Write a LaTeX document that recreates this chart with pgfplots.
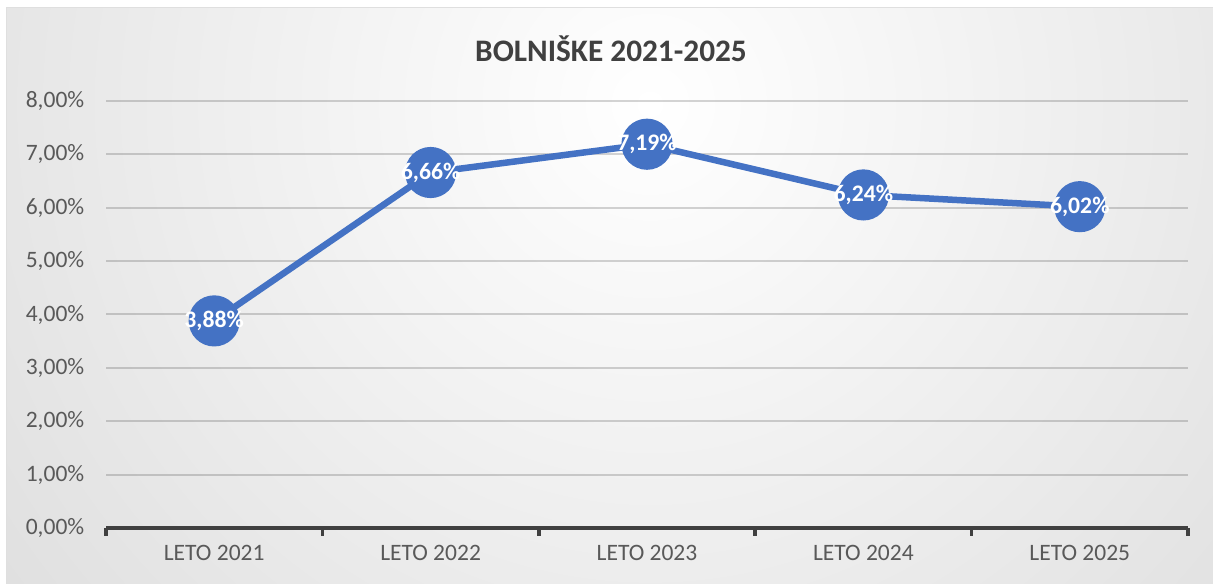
\documentclass[border=0pt]{standalone}
\usepackage{pgfplots}
\pgfplotsset{compat=1.18}
\usepackage{fontspec}
\setmainfont{Carlito}
\definecolor{lineblue}{HTML}{4472C4}
\definecolor{txt}{HTML}{595959}
\definecolor{axisdark}{HTML}{404040}
\begin{document}
\begin{tikzpicture}[x=1bp,y=1bp]
\useasboundingbox (0,0) rectangle (1213,584);
\begin{scope}
\clip (6,0) rectangle (1213,576);
\shade[inner color=white, outer color=gray!44] (650,480) circle (1450);
\end{scope}
\draw[line width=1bp, gray!25] (6,0) -- (6,576) -- (1213,576);
\node[font=\fontsize{31.4pt}{36pt}\selectfont\bfseries, text=axisdark] at (611,535) {BOLNIŠKE 2021-2025};
\begin{axis}[
  at={(106bp,56bp)}, anchor=south west,
  scale only axis, width=1082bp, height=427bp,
  xmin=0.5, xmax=5.5, ymin=0, ymax=8,
  axis line style={draw=none},
  axis x line*=bottom, axis y line*=left,
  xtick={1,2,3,4,5},
  xticklabels={LETO 2021, LETO 2022, LETO 2023, LETO 2024, LETO 2025},
  major x tick style={draw=none},
  minor xtick={0.5,1.5,2.5,3.5,4.5,5.5},
  minor x tick style={draw=axisdark, line width=3.5bp},
  minor tick length=8bp,
  tick align=outside,
  ytick={0,1,2,3,4,5,6,7,8},
  yticklabels={{0,00\%},{1,00\%},{2,00\%},{3,00\%},{4,00\%},{5,00\%},{6,00\%},{7,00\%},{8,00\%}},
  major y tick style={draw=none},
  ymajorgrids,
  major grid style={line width=2bp, draw=black, draw opacity=0.17},
  ticklabel style={font=\fontsize{23.6pt}{28pt}\selectfont, text=txt},
  xticklabel style={yshift=-9bp},
  yticklabel style={xshift=-14bp},
  clip=false,
]
\draw[line width=3.5bp, axisdark] (axis cs:0.5,0) -- (axis cs:5.5,0);
\addplot[
  color=lineblue, line width=6.5bp,
  mark=*, mark size=22.4pt, mark options={fill=lineblue, draw=none},
  point meta=explicit symbolic,
  nodes near coords,
  every node near coord/.append style={anchor=center, text=white,
    font=\fontsize{23.8pt}{28pt}\selectfont\bfseries},
] coordinates {
  (1,3.88) [3,88\%]
  (2,6.66) [6,66\%]
  (3,7.19) [7,19\%]
  (4,6.24) [6,24\%]
  (5,6.02) [6,02\%]
};
\end{axis}
\end{tikzpicture}
\end{document}
